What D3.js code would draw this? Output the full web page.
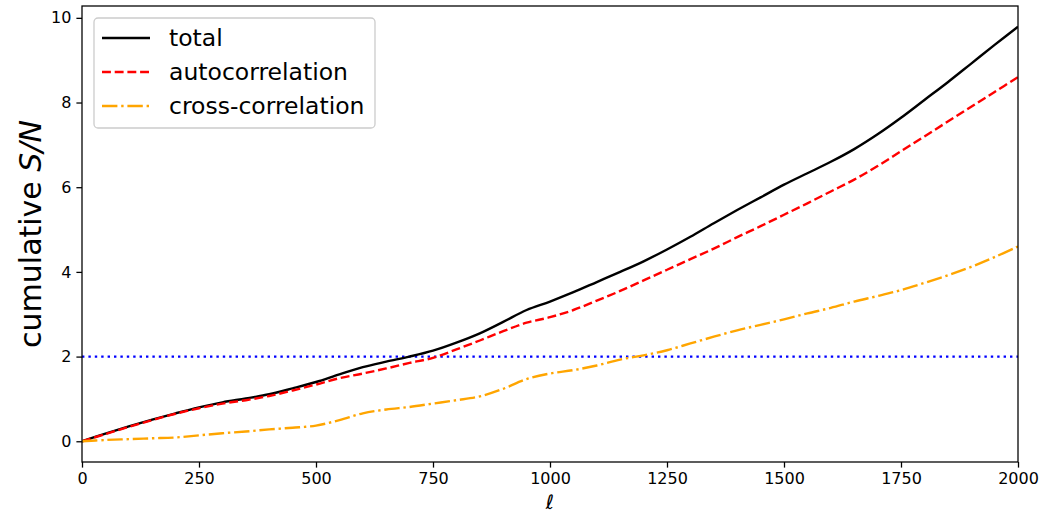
<!DOCTYPE html>
<html>
<head>
<meta charset="utf-8">
<script src="https://cdn.jsdelivr.net/npm/d3@7"></script>
<style>
  body { margin: 0; background: #fff; }
  svg { display: block; }
  text { font-family: "DejaVu Sans", sans-serif; }
</style>
</head>
<body>
<svg id="chart" width="1042" height="513"></svg>
<script>
// ---- data ----
const ell = [0,50,100,150,200,250,300,350,400,450,500,550,600,650,700,750,800,850,900,950,1000,
             1050,1100,1150,1200,1250,1300,1350,1400,1450,1500,1550,1600,1650,1700,1750,1800,1850,1900,1950,2000];
const total = [0,0.18,0.35,0.51,0.66,0.80,0.92,1.01,1.11,1.25,1.40,1.58,1.75,1.88,2.00,2.14,2.33,2.55,2.82,3.10,3.30,
               3.52,3.76,4.00,4.25,4.53,4.83,5.15,5.46,5.76,6.06,6.33,6.60,6.90,7.25,7.64,8.06,8.48,8.92,9.36,9.79];
const autocorr = [0,0.17,0.34,0.50,0.65,0.78,0.89,0.97,1.07,1.20,1.34,1.49,1.60,1.72,1.85,1.97,2.17,2.38,2.60,2.80,2.93,
                  3.10,3.32,3.55,3.80,4.05,4.30,4.55,4.82,5.08,5.35,5.62,5.90,6.18,6.50,6.85,7.20,7.55,7.90,8.25,8.60];
const crosscorr = [0,0.03,0.05,0.07,0.09,0.14,0.19,0.23,0.28,0.32,0.37,0.50,0.66,0.75,0.81,0.89,0.97,1.06,1.24,1.47,1.60,
                   1.68,1.79,1.93,2.03,2.15,2.31,2.47,2.62,2.75,2.88,3.02,3.15,3.30,3.43,3.57,3.74,3.92,4.12,4.35,4.60];
const threshold = 2;
const xTicks = [0,250,500,750,1000,1250,1500,1750,2000];
const yTicks = [0,2,4,6,8,10];
const seriesNames = ["total","autocorrelation","cross-correlation"];
const seriesColors = ["#000000","#ff0000","#ffa500"];
const seriesDash = [null,"8.9,3.8","15.4,3.8,2.4,3.8"];

// ---- layout ----
const svg = d3.select("#chart");
const L = 82, R = 1018, T = 6, B = 462;
const x = d3.scaleLinear().domain([0,2000]).range([L,R]);
const yMin = -0.4895, yMax = 10.2795;
const y = d3.scaleLinear().domain([yMin,yMax]).range([B,T]);

const g = svg.append("g");
svg.append("defs").append("clipPath").attr("id","clip")
  .append("rect").attr("x",L).attr("y",T).attr("width",R-L).attr("height",B-T);

// threshold line
g.append("line")
  .attr("x1",x(0)).attr("x2",x(2000)).attr("y1",y(threshold)).attr("y2",y(threshold))
  .attr("stroke","#0000ff").attr("stroke-width",2.4).attr("stroke-dasharray","2.4,4");

const allSeries = [total, autocorr, crosscorr];
const line = d3.line().x((d,i)=>x(ell[i])).y(d=>y(d)).curve(d3.curveCatmullRom.alpha(0.5));
[0,1,2].forEach(k=>{
  g.append("path").datum(allSeries[k])
    .attr("clip-path","url(#clip)")
    .attr("d",line)
    .attr("fill","none")
    .attr("stroke",seriesColors[k])
    .attr("stroke-width",2.4)
    .attr("stroke-dasharray",seriesDash[k]);
});

// axes
const fmt = d3.format("d");
const xAxis = d3.axisBottom(x).tickValues(xTicks).tickFormat(fmt).tickSize(5.6).tickPadding(5);
const yAxis = d3.axisLeft(y).tickValues(yTicks).tickFormat(fmt).tickSize(5.6).tickPadding(5);
const gx = svg.append("g").attr("transform",`translate(0,${B})`).call(xAxis);
const gy = svg.append("g").attr("transform",`translate(${L},0)`).call(yAxis);
[gx,gy].forEach(a=>{
  a.select(".domain").remove();
  a.selectAll(".tick line").attr("stroke","#000").attr("stroke-width",1.28);
  a.selectAll(".tick text").attr("font-size",16).attr("fill","#000")
    .attr("font-family","DejaVu Sans");
});
// frame
svg.append("rect").attr("x",L).attr("y",T).attr("width",R-L).attr("height",B-T)
  .attr("fill","none").attr("stroke","#000").attr("stroke-width",1.28);

// axis labels
const yl = svg.append("text")
  .attr("transform",`translate(41,${(T+B)/2}) rotate(-90)`)
  .attr("text-anchor","middle").attr("font-size",30).attr("fill","#000");
yl.append("tspan").text("cumulative ");
yl.append("tspan").attr("font-style","italic").text("S/N");

svg.append("text").attr("x",(L+R)/2).attr("y",509)
  .attr("text-anchor","middle").attr("font-size",20).attr("font-style","italic")
  .attr("fill","#000").text("ℓ");

// legend
const lg = svg.append("g");
lg.append("rect").attr("x",94).attr("y",18).attr("width",281).attr("height",110)
  .attr("rx",4).attr("fill","#fff").attr("fill-opacity",0.8)
  .attr("stroke","#cccccc").attr("stroke-width",1.3);
seriesNames.forEach((name,i)=>{
  const yy = 38 + i*34;
  lg.append("line").attr("x1",102).attr("x2",150).attr("y1",yy).attr("y2",yy)
    .attr("stroke",seriesColors[i]).attr("stroke-width",2.4)
    .attr("stroke-dasharray",seriesDash[i]);
  lg.append("text").attr("x",169).attr("y",yy).attr("dy","0.35em")
    .attr("font-size",23.5).attr("fill","#000").text(name);
});
</script>
</body>
</html>
